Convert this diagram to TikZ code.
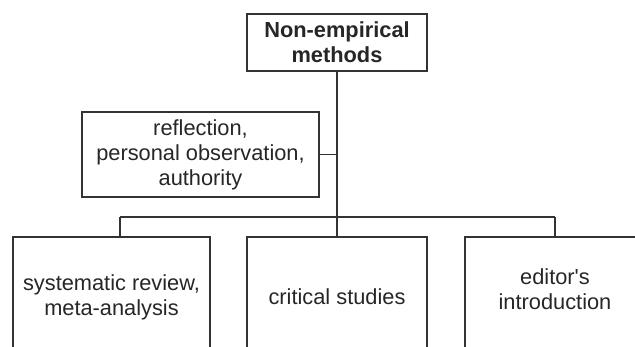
\documentclass[tikz,border=0pt]{standalone}
\usepackage{fontspec}
\setmainfont{Liberation Sans}

\begin{document}
\begin{tikzpicture}[
    x=1pt, y=-1pt,
    box/.style={rectangle, draw=black!80, line width=1.3pt, minimum width=180pt, align=center, inner sep=0pt, text=black!85, font=\fontsize{21.8}{25}\selectfont},
    link/.style={draw=black!80, line width=1.3pt}
]
\useasboundingbox (0,0) rectangle (635,347);
\clip (0,0) rectangle (635,347);

% Top
\node[box, minimum height=57pt, font=\fontsize{21.8}{25}\selectfont\bfseries] (nonemp) at (337, 42.5) {Non-empirical\\methods};

% Side branch
\node[box, minimum width=237pt, minimum height=85pt] (reflect) at (200.5, 154.5) {reflection,\\personal observation,\\authority};

% Bottom row
\node[box, minimum width=197pt, minimum height=120pt] (review) at (111.5, 297) {systematic review,\\meta-analysis};
\node[box, minimum height=120pt] (critical) at (337, 297) {critical studies};
\node[box, minimum height=120pt] (editor) at (555, 297) {editor\textquotesingle s\\introduction\\[-9pt]\mbox{}};

% Bus
\coordinate (bus) at (337, 217);
\coordinate (busL) at (120, 217);
\coordinate (busR) at (555, 217);

% Lines
\draw[link] (nonemp.south) -- (bus);
\draw[link] (reflect.east) -- (reflect.east -| bus);
\draw[link] (busL) -- (busR);
\draw[link] (busL) -- (busL |- review.north);
\draw[link] (bus) -- (critical.north);
\draw[link] (busR) -- (editor.north);

\end{tikzpicture}
\end{document}
